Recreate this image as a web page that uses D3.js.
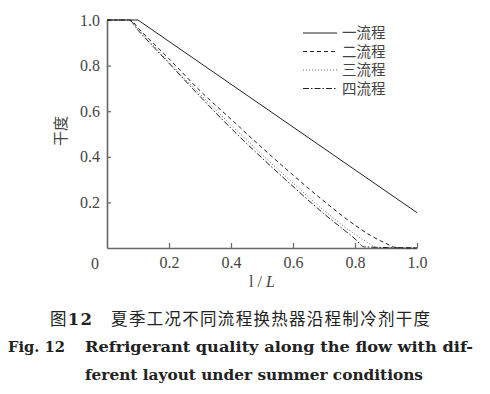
<!DOCTYPE html>
<html>
<head>
<meta charset="utf-8">
<script src="https://cdn.jsdelivr.net/npm/d3@7"></script>
<style>
  body { margin: 0; background: #fff; }
  svg { display: block; }
</style>
</head>
<body>
<div id="chart"></div>
<script>
// series
const seriesNames = ["一流程", "二流程", "三流程", "四流程"];
const x1 = [0, 0.1, 1.0];
const y1 = [1, 1, 0.155];
const x2 = [0, 0.075, 0.1, 0.2, 0.3, 0.4, 0.5, 0.6, 0.7, 0.8, 0.85, 0.9, 0.93, 1.0];
const y2 = [1, 1, 0.965, 0.83, 0.69, 0.565, 0.44, 0.32, 0.205, 0.1, 0.055, 0.02, 0.003, 0];
const x3 = [0, 0.07, 0.1, 0.2, 0.3, 0.4, 0.5, 0.6, 0.7, 0.8, 0.84, 0.87, 1.0];
const y3 = [1, 1, 0.96, 0.815, 0.675, 0.54, 0.41, 0.285, 0.165, 0.06, 0.025, 0.003, 0];
const x4 = [0, 0.07, 0.1, 0.2, 0.3, 0.4, 0.5, 0.6, 0.7, 0.8, 0.83, 1.0];
const y4 = [1, 1, 0.955, 0.81, 0.665, 0.525, 0.395, 0.27, 0.15, 0.04, 0.005, 0];
const xTicks = [0.2, 0.4, 0.6, 0.8, 1.0];
const yTicks = [0.2, 0.4, 0.6, 0.8, 1.0];

const width = 490, height = 394;
const x0px = 107, x1px = 417, ytop = 20, ybot = 248;
const dashes = [null, "4,3", "1,2", "6,2,1.5,2"];

const svg = d3.select("#chart").append("svg")
  .attr("width", width).attr("height", height);

const x = d3.scaleLinear().domain([0, 1]).range([x0px, x1px]);
const y = d3.scaleLinear().domain([0, 1]).range([ybot, ytop]);

const serif = "'Liberation Serif', 'DejaVu Serif', serif";
const cjk = "'Noto Sans CJK SC', sans-serif";

// axes
const yAxis = d3.axisLeft(y).tickValues(yTicks).tickFormat(d3.format(".1f"))
  .tickSizeInner(-4).tickSizeOuter(0).tickPadding(7);
const xAxis = d3.axisBottom(x).tickValues(xTicks).tickFormat(d3.format(".1f"))
  .tickSizeInner(-5).tickSizeOuter(0).tickPadding(9);

const gy = svg.append("g").attr("transform", `translate(${x0px},0)`).call(yAxis);
const gx = svg.append("g").attr("transform", `translate(0,${ybot})`).call(xAxis);
[gx, gy].forEach(g => {
  g.select(".domain").attr("stroke", "#666").attr("stroke-width", 1.6);
  g.selectAll(".tick line").attr("stroke", "#666").attr("stroke-width", 1.2);
  g.selectAll(".tick text").attr("fill", "#444")
    .style("font-family", serif).style("font-size", "16px");
});

svg.append("text").attr("x", 95).attr("y", 269).attr("text-anchor", "middle")
  .attr("fill", "#444").style("font-family", serif).style("font-size", "16px").text("0");

// axis titles
svg.append("text")
  .attr("transform", "translate(66,131) rotate(-90)")
  .attr("text-anchor", "middle").attr("fill", "#444")
  .style("font-family", cjk).style("font-size", "15px").text("干度");

const xt = svg.append("text").attr("x", 262).attr("y", 287).attr("text-anchor", "middle")
  .attr("fill", "#444").style("font-family", serif).style("font-size", "16px");
xt.append("tspan").text("l / ");
xt.append("tspan").style("font-style", "italic").text("L");

// curves
const data = [[x1, y1], [x2, y2], [x3, y3], [x4, y4]]
  .map(([xs, ys]) => xs.map((v, i) => [v, ys[i]]));
const lineStraight = d3.line().x(d => x(d[0])).y(d => y(d[1]));
const lineSmooth = d3.line().x(d => x(d[0])).y(d => y(d[1])).curve(d3.curveMonotoneX);

svg.selectAll("path.curve").data(data).enter().append("path")
  .attr("class", "curve")
  .attr("d", (d, i) => i == 0 ? lineStraight(d) : lineSmooth(d))
  .attr("fill", "none")
  .attr("stroke", (d, i) => i == 2 ? "#666" : "#222")
  .attr("stroke-width", 1)
  .attr("stroke-dasharray", (d, i) => dashes[i]);

// legend
const leg = svg.append("g").selectAll("g").data(seriesNames).enter().append("g")
  .attr("transform", (d, i) => `translate(303,${33 + i * 18.5})`);
leg.append("line").attr("x1", 0).attr("x2", 34)
  .attr("stroke", (d, i) => i == 2 ? "#666" : "#222")
  .attr("stroke-width", 1)
  .attr("stroke-dasharray", (d, i) => dashes[i]);
leg.append("text").attr("x", 39).attr("y", 5).attr("fill", "#444")
  .style("font-family", cjk).style("font-size", "14.5px").text(d => d);

// caption
svg.append("text").attr("x", 50).attr("y", 325)
  .attr("textLength", 380).attr("lengthAdjust", "spacing")
  .attr("fill", "#222").style("font-family", cjk).style("font-size", "16.5px")
  .html("图<tspan font-family=\"DejaVu Serif\" font-weight=\"bold\">12</tspan>\u3000夏季工况不同流程换热器沿程制冷剂干度");

const capStyle = t => t.attr("fill", "#222").style("font-family", "'DejaVu Serif', serif")
  .style("font-weight", "bold").style("font-size", "15px");
svg.append("text").attr("x", 8).attr("y", 352).call(capStyle)
  .attr("textLength", 57).attr("lengthAdjust", "spacingAndGlyphs").text("Fig. 12");
svg.append("text").attr("x", 85).attr("y", 352).call(capStyle)
  .attr("textLength", 388).attr("lengthAdjust", "spacingAndGlyphs")
  .text("Refrigerant quality along the flow with dif-");
svg.append("text").attr("x", 85).attr("y", 380).call(capStyle)
  .attr("textLength", 338).attr("lengthAdjust", "spacingAndGlyphs")
  .text("ferent layout under summer conditions");
</script>
</body>
</html>
